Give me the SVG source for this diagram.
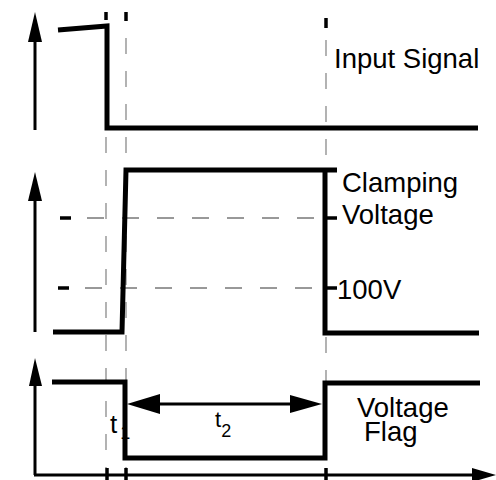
<svg xmlns="http://www.w3.org/2000/svg" width="496" height="480" viewBox="0 0 496 480">
<style>
.grid{stroke:#808080;stroke-width:1.2;stroke-dasharray:16 17;fill:none}
.hgrid{stroke:#333;stroke-width:1;stroke-dasharray:17 18;fill:none}
.wave{stroke:#000;stroke-width:5;fill:none;stroke-linejoin:miter}
.axis{stroke:#000;stroke-width:3;fill:none}
.tick{stroke:#000;stroke-width:3.5;fill:none}
.head{fill:#000;stroke:none}
text{font-family:"Liberation Sans",Arial,sans-serif;fill:#000}
.lbl{font-size:27.5px}
</style>
<rect width="496" height="480" fill="#fff"/>
<g id="guides">
<line class="grid" x1="106" y1="38" x2="106" y2="468"/>
<line class="grid" x1="126" y1="38" x2="126" y2="468"/>
<line class="grid" x1="326" y1="40" x2="326" y2="468"/>
<line class="tick" x1="106" y1="12" x2="106" y2="20"/>
<line class="tick" x1="126" y1="12" x2="126" y2="21"/>
<line class="tick" x1="326" y1="18" x2="326" y2="28"/>
<line class="hgrid" x1="87" y1="218" x2="322" y2="218"/>
<line class="hgrid" x1="85" y1="288" x2="322" y2="288"/>
<line class="tick" x1="60" y1="218" x2="71" y2="218"/>
<line class="tick" x1="58" y1="288" x2="69" y2="288"/>
</g>
<g id="axes">
<line class="axis" x1="35" y1="130" x2="35" y2="40"/>
<polygon class="head" points="35,12 28,42 42,42"/>
<line class="axis" x1="35" y1="332" x2="35" y2="198"/>
<polygon class="head" points="35,172 28,201 42,201"/>
<line class="axis" x1="35" y1="475" x2="35" y2="383"/>
<polygon class="head" points="35,358 29,386 42,386"/>
<line class="axis" x1="34" y1="475" x2="474" y2="475"/>
<polygon class="head" points="496,475 472,468 472,482"/>
<line class="tick" x1="107" y1="468" x2="107" y2="480"/>
<line class="tick" x1="126" y1="468" x2="126" y2="480"/>
<line class="tick" x1="326" y1="468" x2="326" y2="480"/>
</g>
<g id="t1-label">
<text x="110" y="433" font-size="26">t<tspan font-size="18" dx="3" dy="6">1</tspan></text>
</g>
<g id="input-signal">
<polyline class="wave" points="58,30 107,26 107,128 478,128"/>
<text class="lbl" x="334" y="68">Input Signal</text>
</g>
<g id="clamp-signal">
<polyline class="wave" points="53,332 122,332 126,170 337,170"/>
<polyline class="wave" points="325,170 325,333 479,333"/>
<line class="tick" x1="325" y1="218" x2="337" y2="218"/>
<line class="tick" x1="325" y1="288" x2="337" y2="288"/>
<text class="lbl" x="342" y="192">Clamping</text>
<text class="lbl" x="342" y="224">Voltage</text>
<text class="lbl" x="337" y="299">100V</text>
</g>
<g id="voltage-flag">
<polyline class="wave" points="52,382 125,382 125,458 325,458 325,383 480,383"/>
<text class="lbl" x="357" y="417">Voltage</text>
<text class="lbl" x="364" y="441">Flag</text>
</g>
<g id="connectors">
<line class="axis" x1="158" y1="404" x2="292" y2="404"/>
<polygon class="head" points="127,404 160,394 160,414"/>
<polygon class="head" points="322,404 290,395 290,413"/>
<text x="215" y="427" font-size="22">t<tspan font-size="18" dy="10">2</tspan></text>
</g>
</svg>
